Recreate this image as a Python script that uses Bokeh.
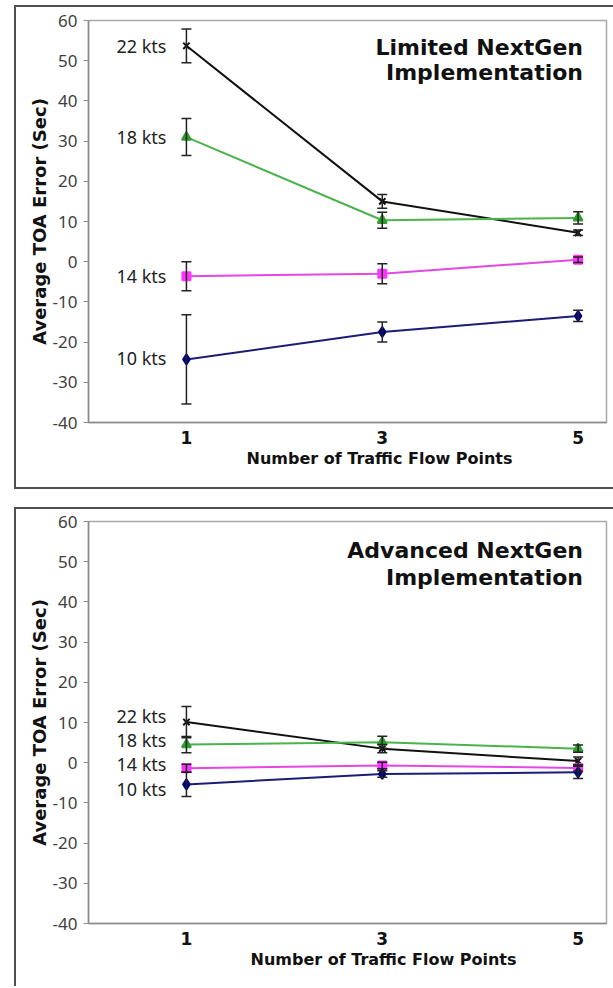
from bokeh.plotting import figure
from bokeh.layouts import column
from bokeh.models import Range1d, FixedTicker, Whisker, ColumnDataSource, Label, TeeHead, Title
from bokeh.core.properties import value
from bokeh.embed import file_html
from bokeh.resources import INLINE

# ---------------- data ----------------
flow_points = [1, 3, 5]
speed_labels = ["22 kts", "18 kts", "14 kts", "10 kts"]
y_ticks = [-40, -30, -20, -10, 0, 10, 20, 30, 40, 50, 60]

# Limited NextGen implementation: mean TOA error and half-width of error bar
limited_22 = [53.7, 15.0, 7.2]
limited_22_err = [4.2, 1.7, 0.7]
limited_18 = [31.0, 10.3, 10.9]
limited_18_err = [4.6, 2.0, 1.5]
limited_14 = [-3.6, -3.0, 0.5]
limited_14_err = [3.6, 2.5, 0.7]
limited_10 = [-24.3, -17.5, -13.5]
limited_10_err = [11.1, 2.5, 1.4]

# Advanced NextGen implementation
advanced_22 = [10.1, 3.5, 0.4]
advanced_22_err = [3.9, 1.0, 1.0]
advanced_18 = [4.5, 5.1, 3.5]
advanced_18_err = [2.0, 1.5, 0.9]
advanced_14 = [-1.4, -0.7, -1.3]
advanced_14_err = [1.0, 0.8, 0.8]
advanced_10 = [-5.4, -2.8, -2.4]
advanced_10_err = [3.0, 0.8, 1.5]

# label positions (y, data units) for the speed annotations
limited_label_y = [53.7, 31.0, -3.6, -24.0]
advanced_label_y = [11.5, 5.7, -0.3, -6.5]

# ---------------- styles ----------------
STYLES = [
    dict(line="#111111", fill="#111111", marker="x", size=9),
    dict(line="#4cb34c", fill="#2e9e2e", marker="triangle", size=9),
    dict(line="#e448e4", fill="#ff33ff", marker="square", size=8),
    dict(line="#1c1c78", fill="#000080", marker="diamond", size=10),
]


def make_panel(title_lines, title_y, series, errs, label_ys, xtitle_offset, mb_top, mb_bottom):
    p = figure(width=597, height=mb_top + 402 + mb_bottom,
               frame_width=518, frame_height=402,
               min_border_left=72, min_border_right=7,
               min_border_top=mb_top, min_border_bottom=mb_bottom,
               x_range=Range1d(0.0, 5.29), y_range=Range1d(-40, 60),
               output_backend="svg", toolbar_location=None)
    p.xgrid.visible = False
    p.ygrid.visible = False
    p.outline_line_color = "#a8a8a8"
    p.outline_line_width = 1.5
    p.background_fill_color = "white"
    p.border_fill_color = "white"

    yax = p.yaxis[0]
    yax.ticker = FixedTicker(ticks=y_ticks)
    yax.major_label_overrides = {t: str(t) for t in y_ticks}
    yax.axis_line_color = "#8a8a8a"
    yax.axis_line_width = 1.5
    yax.major_tick_line_color = "#8a8a8a"
    yax.major_tick_out = 5
    yax.major_tick_in = 0
    yax.minor_tick_line_color = None
    yax.major_label_standoff = 6
    yax.major_label_text_font = "Noto Sans"
    yax.major_label_text_font_size = "17px"
    yax.major_label_text_color = "#404040"
    yax.axis_label = "Average TOA Error (Sec)"
    yax.axis_label_text_font = "DejaVu Sans"
    yax.axis_label_text_font_style = "bold"
    yax.axis_label_text_font_size = "18px"
    yax.axis_label_text_color = "#111111"
    yax.axis_label_standoff = 0

    xax = p.xaxis[0]
    xax.ticker = FixedTicker(ticks=flow_points)
    xax.axis_line_color = "#8a8a8a"
    xax.axis_line_width = 1.5
    xax.major_tick_out = 0
    xax.major_tick_in = 0
    xax.minor_tick_line_color = None
    xax.major_label_standoff = 8
    xax.major_label_text_font = "DejaVu Sans"
    xax.major_label_text_font_style = "bold"
    xax.major_label_text_font_size = "17px"
    xax.major_label_text_color = "#111111"

    for vals, err, st in zip(series, errs, STYLES):
        src = ColumnDataSource(dict(
            x=flow_points, y=vals,
            upper=[v + e for v, e in zip(vals, err)],
            lower=[v - e for v, e in zip(vals, err)]))
        w = Whisker(source=src, base="x", upper="upper", lower="lower",
                    line_color="#222222", line_width=1.5,
                    upper_head=TeeHead(size=10, line_color="#222222", line_width=1.5),
                    lower_head=TeeHead(size=10, line_color="#222222", line_width=1.5))
        w.level = "glyph"
        p.add_layout(w)
        p.line("x", "y", source=src, line_color=st["line"], line_width=2)
        p.scatter("x", "y", source=src, marker=st["marker"], size=st["size"],
                  line_color=st["fill"], fill_color=st["fill"], line_width=2)

    p.text(x=[flow_points[0]] * len(speed_labels), y=label_ys, text=speed_labels,
           x_offset=-20, text_align="right", text_baseline="middle",
           text_font=value("Noto Sans"), text_font_size="18px", text_color="#222222")

    for line, ty in zip(title_lines, title_y):
        p.add_layout(Label(x=5.05, y=ty, text=line, text_align="right",
                           text_baseline="middle", text_font="DejaVu Sans",
                           text_font_style="bold", text_font_size="22px",
                           text_color="#111111"))

    p.add_layout(Title(text="Number of Traffic Flow Points", align="left",
                       offset=xtitle_offset, standoff=0,
                       text_font="DejaVu Sans", text_font_style="bold",
                       text_font_size="16px", text_color="#111111"), "below")
    return p


p1 = make_panel(["Limited NextGen", "Implementation"], [53.3, 47.1],
                [limited_22, limited_18, limited_14, limited_10],
                [limited_22_err, limited_18_err, limited_14_err, limited_10_err],
                limited_label_y, 158, 13, 65)

p2 = make_panel(["Advanced NextGen", "Implementation"], [52.8, 46.1],
                [advanced_22, advanced_18, advanced_14, advanced_10],
                [advanced_22_err, advanced_18_err, advanced_14_err, advanced_10_err],
                advanced_label_y, 162, 12, 63)

box = "2px solid #505050"
w1 = column(p1, margin=(5, 0, 0, 14),
            styles={"border-left": box, "border-top": box, "border-bottom": box})
w2 = column(p2, margin=(18, 0, 0, 14),
            styles={"border-left": box, "border-top": box})
layout = column(w1, w2)

open("out.html", "w").write(file_html(layout, INLINE))
